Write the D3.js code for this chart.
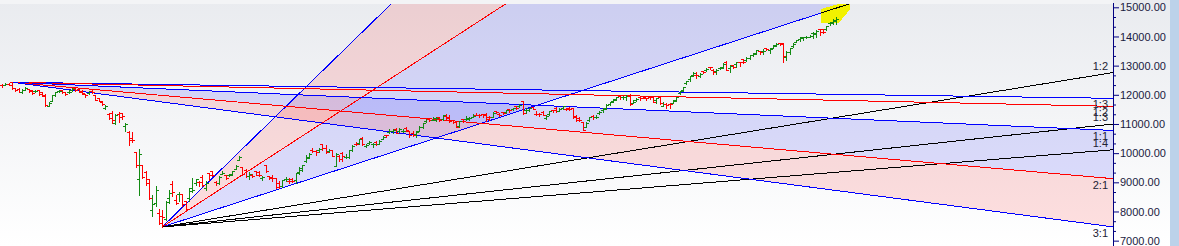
<!DOCTYPE html>
<html>
<head>
<meta charset="utf-8">
<script src="https://cdn.jsdelivr.net/npm/d3@7"></script>
<style>
  html, body { margin: 0; padding: 0; background: #fff; }
  svg { display: block; }
  text { font-family: "Liberation Sans", Arial, sans-serif; }
</style>
</head>
<body>
<svg id="chart" width="1179" height="246"></svg>
<script>
// daily bars, [open, high, low, close]
const bars = [
  [12350,12375,12280,12343],[12349,12390,12331,12355],[12370,12389,12330,12352],[12430,12430,12193,12224],
  [12230,12231,12115,12170],[12195,12226,12090,12107],[12085,12190,12073,12180],[12175,12272,12160,12248],
  [12197,12216,12107,12119],[12148,12163,12024,12055],[12114,12164,12091,12129],[12148,12150,12010,12035],
  [12100,12103,11945,11962],[12000,12017,11633,11662],[11627,11750,11614,11708],[11787,11986,11783,11979],
  [12005,12098,11953,12089],[12120,12160,12084,12137],[12152,12154,12063,12098],[12102,12103,11990,12031],
  [12088,12172,12075,12108],[12150,12231,12144,12201],[12219,12225,12139,12174],[12191,12246,12091,12113],
  [12131,12160,12034,12046],[12029,12031,11908,11993],[12047,12134,12042,12126],[12119,12152,12071,12081],
  [11979,11983,11812,11829],[11877,11884,11779,11797],[11738,11783,11639,11679],[11536,11663,11507,11633],
  [11354,11384,11175,11202],[11387,11434,11036,11132],[11034,11342,11001,11303],[11351,11403,11082,11251],
  [11376,11387,11187,11270],[10942,11035,10752,10989],[10742,10751,10295,10451],[10531,10735,10385,10458],
  [10039,10040,9508,9590],[9108,10159,8555,9955],[9588,9602,9138,9197],[9355,9404,8916,8967],
  [9124,9128,8438,8469],[8063,8575,7832,8263],[8286,8884,8178,8745],[7945,8083,7583,7610],
  [7848,8036,7470,7801],[7735,8376,7714,8318],[8451,8749,8304,8641],[8949,9038,8522,8660],
  [8385,8576,8244,8281],[8584,8678,8358,8598],[8584,8588,8198,8254],[8356,8357,8056,8084],
  [8446,8819,8360,8792],[8688,9131,8682,8748],[8973,9128,8905,9112],[9004,9043,8873,8994],
  [9196,9261,8874,8925],[8790,9053,8749,8992],[9323,9324,9091,9267],[9390,9390,9230,9262],
  [9016,9044,8909,8981],[8963,9213,8946,9187],[9296,9372,9278,9314],[9242,9248,9125,9154],
  [9259,9298,9219,9282],[9260,9404,9254,9380],[9450,9599,9446,9553],[9753,9889,9751,9860],
  [9533,9533,9266,9294],[9429,9450,9190,9206],[9227,9346,9116,9271],[9234,9277,9175,9200],
  [9377,9383,9238,9252],[9348,9390,9219,9240],[9143,9218,9084,9197],[9584,9584,9367,9384],
  [9226,9227,9117,9143],[9182,9255,9051,9137],[9159,9159,8807,8823],[8961,9031,8807,8880],
  [8885,9093,8841,9067],[9103,9178,9056,9106],[9049,9149,8968,9039],[9100,9162,8996,9029],
  [9082,9334,8969,9315],[9364,9511,9294,9490],[9422,9598,9377,9580],[9726,9931,9706,9826],
  [9880,9996,9824,9980],[10094,10177,10040,10062],[10072,10112,9945,10029],[10093,10180,10035,10142],
  [10326,10328,10120,10167],[10182,10291,10022,10047],[10073,10148,10036,10116],[10094,10112,9885,9902],
  [9544,9996,9544,9972],[9919,9943,9727,9814],[10014,10046,9729,9914],[9876,9966,9833,9882],
  [9864,10111,9845,10092],[10120,10272,10072,10244],[10318,10393,10277,10311],[10347,10484,10301,10471],
  [10529,10553,10281,10305],[10235,10315,10195,10288],[10337,10409,10311,10383],[10311,10337,10223,10312],
  [10382,10401,10267,10302],[10324,10447,10300,10430],[10493,10573,10485,10552],[10614,10632,10562,10607],
  [10723,10811,10695,10763],[10745,10813,10676,10800],[10818,10848,10676,10706],[10755,10847,10718,10813],
  [10764,10819,10736,10768],[10851,10894,10771,10802],[10750,10755,10562,10607],[10702,10755,10577,10618],
  [10643,10755,10562,10740],[10752,10933,10749,10902],[10900,11037,10873,11022],[11091,11180,11074,11162],
  [11173,11180,11090,11132],[11150,11239,11140,11215],[11149,11225,11116,11194],[11225,11226,11108,11131],
  [11157,11313,11152,11300],[11277,11341,11170,11202],[11254,11300,11084,11102],[11140,11150,11026,11073],
  [11058,11058,10882,10892],[10946,11112,10908,11095],[11155,11176,11064,11101],[11185,11257,11128,11200],
  [11186,11232,11142,11214],[11250,11337,11238,11270],[11323,11374,11302,11322],[11322,11349,11242,11308],
  [11334,11359,11250,11300],[11353,11366,11111,11178],[11249,11263,11144,11247],[11247,11401,11248,11385],
  [11438,11460,11370,11408],[11353,11361,11282,11312],[11409,11418,11331,11372],[11412,11481,11389,11466],
  [11513,11525,11422,11472],[11499,11561,11473,11549],[11609,11617,11530,11559],[11602,11686,11589,11647],
  [11777,11794,11326,11388],[11464,11555,11371,11470],[11487,11553,11450,11535],[11583,11584,11499,11527],
  [11355,11452,11303,11333],[11359,11381,11281,11355],[11409,11437,11295,11317],[11220,11302,11185,11278],
  [11334,11457,11319,11449],[11478,11494,11413,11464],[11540,11572,11420,11440],[11449,11553,11444,11521],
  [11554,11618,11498,11604],[11524,11561,11469,11516],[11554,11585,11465,11505],[11532,11535,11219,11250],
  [11264,11302,11085,11153],[11216,11240,11098,11132],[11054,11054,10791,10805],[10910,11059,10886,11050],
  [11141,11241,11113,11228],[11285,11305,11159,11222],[11244,11306,11194,11248],[11364,11428,11347,11417],
  [11487,11535,11423,11503],[11558,11680,11526,11662],[11680,11763,11641,11738],[11798,11849,11762,11834],
  [11851,11939,11818,11914],[11973,11974,11860,11930],[11920,11949,11866,11935],[11917,11997,11822,11971],
  [11959,12025,11661,11680],[11727,11839,11724,11762],[11835,11901,11797,11873],[11923,11934,11826,11896],
  [11957,11974,11898,11937],[11900,11904,11807,11896],[11931,11950,11861,11930],[11937,11942,11742,11767],
  [11807,11899,11723,11889],[11922,11929,11684,11730],[11633,11744,11606,11670],[11678,11710,11535,11642],
  [11697,11726,11557,11669],[11734,11836,11723,11813],[11783,11929,11775,11908],[12063,12132,12023,12120],
  [12156,12280,12132,12263],[12399,12474,12367,12461],[12556,12644,12475,12631],[12680,12769,12643,12749],
  [12691,12768,12571,12690],[12659,12735,12607,12720],[12829,12829,12752,12780],[12845,12934,12821,12874],
  [12960,12963,12880,12938],[12854,12881,12730,12771],[12813,12879,12730,12859],[12906,12968,12881,12926],
  [12960,13079,12933,13055],[13130,13145,12835,12858],[12907,13018,12790,12987],[13012,13035,12914,12969],
  [13062,13128,12962,13109],[13121,13129,12983,13113],[13215,13216,13107,13134],[13177,13280,13152,13258],
  [13264,13367,13241,13356],[13370,13435,13339,13393],[13421,13548,13402,13529],[13488,13503,13400,13478],
  [13513,13580,13402,13514],[13597,13597,13528,13558],[13547,13588,13434,13567],[13614,13692,13607,13682],
  [13714,13773,13682,13740],[13778,13778,13701,13761],[13741,13778,13131,13328],[13304,13493,13193,13466],
  [13473,13616,13413,13601],[13672,13771,13626,13749],[13816,13885,13810,13873],[13910,13967,13859,13932],
  [13980,13998,13864,13982],[13970,14024,13937,13981],[13997,14050,13992,14018],[14104,14148,13953,14132],
  [14076,14216,13975,14199],[14240,14244,14040,14146],[14254,14256,14117,14137],[14258,14367,14222,14347],
  [14474,14498,14383,14485],[14473,14590,14438,14563],[14530,14653,14435,14600]
];

const priceTicks = [7000, 8000, 9000, 10000, 11000, 12000, 13000, 14000, 15000];

// fan drawn down from the January top: origin [bar, price], price per bar of the 1x1
const fanHighOrigin = [3, 12430];
const fanHighUnit = 5.01;
const fanHighRatios = [1/3, 1/2, 1, 2, 3];
const fanHighNames = ["1:3", "1:2", "1:1", "2:1", "3:1"];

// fan drawn up from the March low
const fanLowOrigin = [48, 7470];
const fanLowUnit = 37.16;
const fanLowRatios = [3, 2, 1, 1/2, 1/3, 1/4];
const fanLowNames = ["3:1", "2:1", "1:1", "1:2", "1:3", "1:4"];

// highlighted corner on the low fan's 1x1 line, [bar, price]
const markerZone = [[245.4,14940],[250.5,15110],[254,15110],[254,14940],[252.5,14700],[250.5,14460],[245.4,14460]];
const markerStartBar = 245.4;

const W = 1179, H = 246, AX = 1113, TOP = 4;
const BAR0 = 1.986, STEP = 3.338;

const svg = d3.select("#chart");

const x = d3.scaleLinear().domain([0, 100]).range([BAR0, BAR0 + 100 * STEP]);
const y = d3.scaleLinear().domain([7000, 15000]).range([240.65, 7.3]);
const lastBar = x.invert(AX);

const defs = svg.append("defs");
const grad = defs.append("linearGradient").attr("id", "bgGrad")
  .attr("x1", 0).attr("y1", 0).attr("x2", 0).attr("y2", 1);
grad.append("stop").attr("offset", "0%").attr("stop-color", "#e9ebef");
grad.append("stop").attr("offset", "100%").attr("stop-color", "#ffffff");

defs.append("clipPath").attr("id", "plotClip")
  .append("rect").attr("x", 0).attr("y", TOP).attr("width", AX).attr("height", H - TOP);

// background
svg.append("rect").attr("width", W).attr("height", H).attr("fill", "url(#bgGrad)");
svg.append("rect").attr("width", AX).attr("height", TOP).attr("fill", "#f3f4f6");
svg.append("rect").attr("x", 1170).attr("width", W - 1170).attr("height", H).attr("fill", "#bcd2ea");

const plot = svg.append("g").attr("clip-path", "url(#plotClip)");

function fanRays(origin, unit, ratios, dir) {
  return ratios.map(r => {
    const endPrice = origin[1] + dir * r * unit * (lastBar - origin[0]);
    return { r, end: [lastBar, endPrice] };
  });
}

const highRays = fanRays(fanHighOrigin, fanHighUnit, fanHighRatios, -1);
const lowRays = fanRays(fanLowOrigin, fanLowUnit, fanLowRatios, 1);

const PINK = "rgba(255,0,0,0.12)", LAV = "rgba(0,0,255,0.12)";
const toPx = p => [x(p[0]), y(p[1])];

// fills between neighbouring rays
const fills = [
  { o: fanLowOrigin, a: lowRays[0], b: lowRays[1], c: PINK },
  { o: fanLowOrigin, a: lowRays[1], b: lowRays[2], c: LAV },
  { o: fanHighOrigin, a: highRays[2], b: highRays[3], c: LAV },
  { o: fanHighOrigin, a: highRays[3], b: highRays[4], c: PINK }
];
plot.selectAll("path.fill").data(fills).join("path")
  .attr("class", "fill")
  .attr("d", d => "M" + [d.o, d.a.end, d.b.end].map(toPx).join("L") + "Z")
  .attr("fill", d => d.c)
  .attr("shape-rendering", "crispEdges");

const lowColors = ["#0000ff", "#ff0000", "#0000ff", "#000000", "#000000", "#000000"];
const highColors = ["#0000ff", "#ff0000", "#0000ff", "#ff0000", "#0000ff"];

const line = d3.line().x(d => x(d[0])).y(d => y(d[1]));

plot.selectAll("path.lowray").data(lowRays).join("path")
  .attr("class", "lowray")
  .attr("d", d => line([fanLowOrigin, d.end]))
  .attr("fill", "none")
  .attr("stroke", (d, i) => lowColors[i])
  .attr("stroke-width", 1)
  .attr("shape-rendering", "crispEdges");

plot.selectAll("path.highray").data(highRays).join("path")
  .attr("class", "highray")
  .attr("d", d => line([fanHighOrigin, d.end]))
  .attr("fill", "none")
  .attr("stroke", (d, i) => highColors[i])
  .attr("stroke-width", 1)
  .attr("shape-rendering", "crispEdges");

// yellow marker and the selected part of the 1x1 line
plot.append("path")
  .attr("d", "M" + markerZone.map(toPx).join("L") + "Z")
  .attr("fill", "#f2f200")
  .attr("shape-rendering", "crispEdges");
const oneToOne = b => fanLowOrigin[1] + fanLowUnit * (b - fanLowOrigin[0]);
plot.append("path")
  .attr("d", line([[markerStartBar, oneToOne(markerStartBar)], [lastBar, oneToOne(lastBar)]]))
  .attr("fill", "none").attr("stroke", "#000").attr("stroke-width", 1)
  .attr("shape-rendering", "crispEdges");

// OHLC bars
const UP = "#138a13", DOWN = "#ff0000";
const px = i => Math.round(x(i));
const py = v => Math.round(y(v));
const barG = plot.append("g").attr("shape-rendering", "crispEdges")
  .selectAll("g").data(bars).join("g")
  .attr("fill", d => d[3] > d[0] ? UP : DOWN);
barG.append("rect")
  .attr("x", (d, i) => px(i)).attr("y", d => py(d[1]))
  .attr("width", 1).attr("height", d => Math.max(1, py(d[2]) - py(d[1]) + 1));
barG.append("rect")
  .attr("x", (d, i) => px(i) - 2).attr("y", d => py(d[0]))
  .attr("width", 2).attr("height", 1);
barG.append("rect")
  .attr("x", (d, i) => px(i) + 1).attr("y", d => py(d[3]))
  .attr("width", 2).attr("height", 1);

// ratio labels at the right edge
const labels = [];
lowRays.forEach((d, i) => labels.push({ t: fanLowNames[i], y: y(d.end[1]) - 3 }));
highRays.forEach((d, i) => labels.push({ t: fanHighNames[i], y: y(d.end[1]) + 10 }));
svg.append("g").selectAll("text").data(labels.filter(d => d.y > TOP + 8 && d.y < H))
  .join("text")
  .attr("x", AX - 5).attr("y", d => d.y)
  .attr("text-anchor", "end")
  .attr("font-size", 11)
  .attr("fill", "#222233")
  .text(d => d.t);

// price axis
svg.append("line")
  .attr("x1", AX + 0.5).attr("x2", AX + 0.5).attr("y1", TOP - 1).attr("y2", H)
  .attr("stroke", "#000080");

const minorTicks = d3.range(7000, 15000, 1000 / 3).filter((d, i) => i % 3 !== 0).map(Math.round);
const minor = svg.append("g").attr("transform", `translate(${AX},0)`)
  .call(d3.axisRight(y).tickValues(minorTicks).tickSize(3).tickFormat(""));
minor.select(".domain").remove();
minor.selectAll("line").attr("stroke", "#000080");

const axis = svg.append("g").attr("transform", `translate(${AX},0)`)
  .call(d3.axisRight(y).tickValues(priceTicks).tickSize(6).tickPadding(1).tickFormat(d3.format(".2f")));
axis.select(".domain").remove();
axis.selectAll("line").attr("stroke", "#000080");
axis.selectAll("text")
  .attr("font-size", 11)
  .attr("font-family", "'Liberation Sans', Arial, sans-serif")
  .attr("fill", "#1a1a40");
</script>
</body>
</html>
